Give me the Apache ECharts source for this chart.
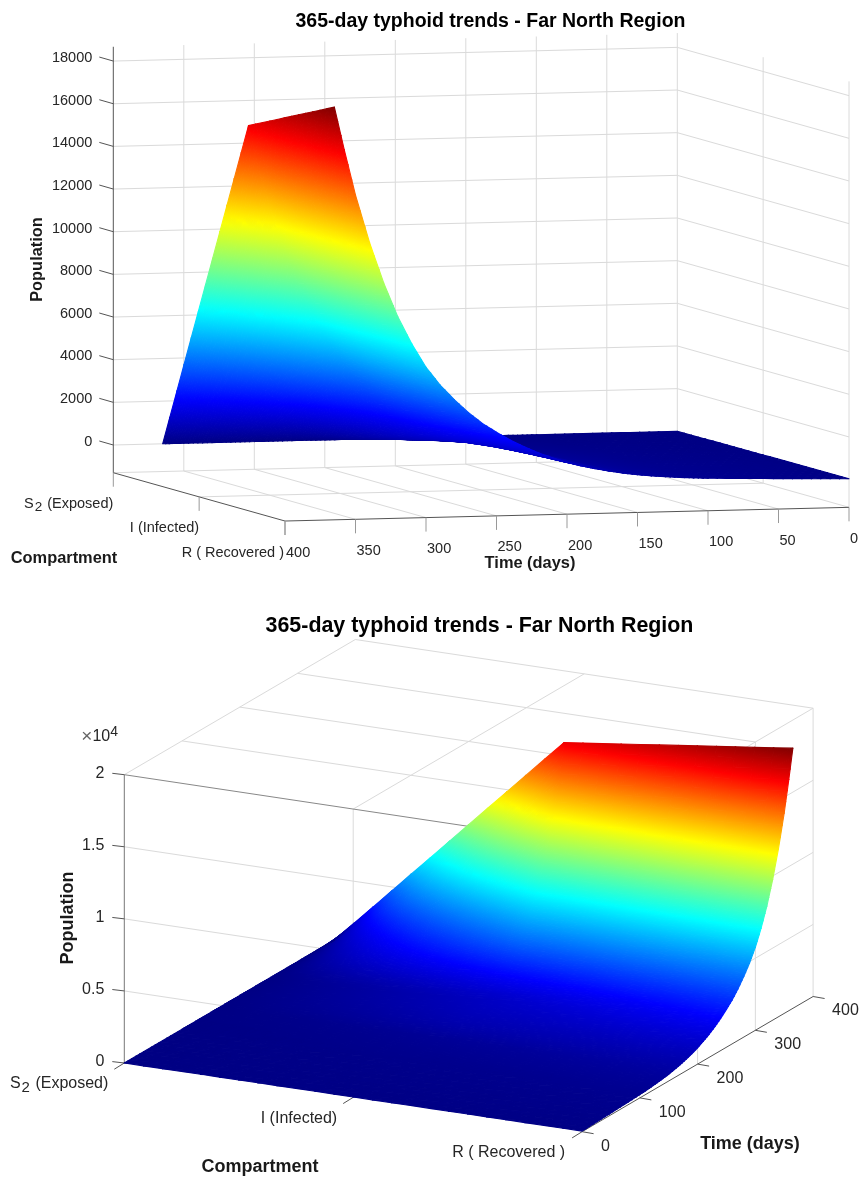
<!DOCTYPE html>
<html>
<head>
<meta charset="utf-8">
<title>365-day typhoid trends</title>
<style>
  html, body { margin: 0; padding: 0; background: #fff; }
  #chart { width: 861px; height: 1178px; }
</style>
<script src="https://cdn.jsdelivr.net/npm/echarts@6/dist/echarts.min.js"></script>
</head>
<body>
<div id="chart"></div>
<script>
const titleText = '365-day typhoid trends - Far North Region';
const timeDays = [0, 20, 40, 60, 80, 100, 110, 120, 130, 140, 150, 160, 170, 180, 190, 200, 210, 220, 230, 240, 250, 260, 270, 280, 290, 300, 310, 320, 330, 340, 350, 358, 365];
const exposedValues = [0, 0, 0, 0, 0, 0, 0, 0, 0, 0, 0, 0, 0, 0, 0, 0, 0, 0, 0, 0, 0, 0, 0, 0, 0, 0, 0, 0, 0, 0, 0, 0, 0];
const infectedValues = [25, 45, 65, 90, 115, 145, 165, 190, 220, 255, 300, 350, 530, 690, 820, 905, 994, 1055, 1115, 1160, 1350, 1850, 2550, 3350, 4200, 5060, 6030, 7170, 8570, 10250, 12250, 14000, 16050];
const recoveredValues = [40, 75, 110, 145, 180, 225, 255, 295, 345, 400, 470, 560, 670, 800, 950, 1130, 1350, 1600, 1900, 2230, 2620, 3050, 3580, 4200, 4900, 5750, 6850, 8150, 9750, 11650, 13900, 16050, 18050];
const topTimeTicks = [400, 350, 300, 250, 200, 150, 100, 50, 0];
const topPopTicks = [0, 2000, 4000, 6000, 8000, 10000, 12000, 14000, 16000, 18000];
const bottomTimeTicks = [0, 100, 200, 300, 400];
const bottomPopTicks = [0, 5000, 10000, 15000, 20000];
const bottomPopLabels = ['0', '0.5', '1', '1.5', '2'];

const surfaceRows = [exposedValues, infectedValues, recoveredValues];
const colorLimit = 18050;
const jetStops = [
  [0, [0, 0, 132]], [0.125, [0, 0, 255]], [0.375, [0, 255, 255]],
  [0.625, [255, 255, 0]], [0.875, [255, 0, 0]], [1, [128, 0, 0]],
];

const FONT = '"Liberation Sans", Arial, sans-serif';
const GRID = '#dadada';
const TICK = '#262626';

const jet = z => {
  const v = Math.max(0, Math.min(1, z / colorLimit));
  for (let i = 1; i < jetStops.length; i++) {
    if (v <= jetStops[i][0]) {
      const [a, ca] = jetStops[i - 1];
      const [b, cb] = jetStops[i];
      const f = (v - a) / (b - a);
      return `rgb(${ca.map((x, k) => Math.round(x + (cb[k] - x) * f)).join(',')})`;
    }
  }
  return 'rgb(128,0,0)';
};

// oblique views of the two MATLAB axes: px per day, per compartment, per person
const topView = { origin: [677.3, 431.3], t: [-1.41, 0.03425], c: [85.85, 24.15], z: [0, -0.02133] };
const bottomView = { origin: [124.3, 1063], t: [0.5775, -0.338], c: [228.9, 34.35], z: [0, -0.014415] };

const project = (view, t, c, z) => [
  view.origin[0] + view.t[0] * t + view.c[0] * c + view.z[0] * z,
  view.origin[1] + view.t[1] * t + view.c[1] * c + view.z[1] * z,
];

const topZ = [-1300, 18670];
const bottomZ = [0, 20000];

const topLines = [];
const bottomLines = [];
const seg = (list, a, b, color) => list.push({ a, b, color });

// top panel: back wall, side wall, floor
topPopTicks.forEach(z => {
  seg(topLines, [400, 0, z], [0, 0, z], GRID);
  seg(topLines, [0, 0, z], [0, 2, z], GRID);
});
topTimeTicks.filter(t => t !== 400).forEach(t => {
  seg(topLines, [t, 0, topZ[0]], [t, 0, topZ[1]], GRID);
  seg(topLines, [t, 0, topZ[0]], [t, 2, topZ[0]], GRID);
});
[1, 2].forEach(c => seg(topLines, [0, c, topZ[0]], [0, c, topZ[1]], GRID));
[0, 1].forEach(c => seg(topLines, [400, c, topZ[0]], [0, c, topZ[0]], GRID));
seg(topLines, [400, 0, topZ[0]], [400, 0, topZ[1]], '#555');
seg(topLines, [400, 0, topZ[0]], [400, 2, topZ[0]], '#555');
seg(topLines, [400, 2, topZ[0]], [0, 2, topZ[0]], '#555');

// bottom panel: near wall, side wall, ceiling
bottomPopTicks.filter(z => z > bottomZ[0] && z < bottomZ[1]).forEach(z => {
  seg(bottomLines, [0, 0, z], [0, 2, z], GRID);
  seg(bottomLines, [0, 2, z], [400, 2, z], GRID);
});
seg(bottomLines, [0, 1, bottomZ[0]], [0, 1, bottomZ[1]], GRID);
bottomTimeTicks.filter(t => t > 0).forEach(t => {
  seg(bottomLines, [t, 2, bottomZ[0]], [t, 2, bottomZ[1]], GRID);
  seg(bottomLines, [t, 0, bottomZ[1]], [t, 2, bottomZ[1]], GRID);
});
[0, 1, 2].forEach(c => seg(bottomLines, [0, c, bottomZ[1]], [400, c, bottomZ[1]], GRID));
seg(bottomLines, [0, 2, bottomZ[0]], [0, 2, bottomZ[1]], GRID);
seg(bottomLines, [0, 0, bottomZ[1]], [0, 2, bottomZ[1]], '#888');
seg(bottomLines, [0, 0, bottomZ[0]], [0, 0, bottomZ[1]], '#777');
seg(bottomLines, [0, 2, bottomZ[0]], [400, 2, bottomZ[0]], '#555');

const tickMarks = (list, points, offset, color) => points.forEach(p => list.push({ from: p, offset, color }));

const topTicks = [];
tickMarks(topTicks, topPopTicks.map(z => [400, 0, z]), [-14, -4], '#555');
tickMarks(topTicks, [0, 1, 2].map(c => [400, c, topZ[0]]), [0, 14], '#999');
tickMarks(topTicks, topTimeTicks.map(t => [t, 2, topZ[0]]), [0, 14], '#999');

const bottomTicks = [];
tickMarks(bottomTicks, bottomPopTicks.map(z => [0, 0, z]), [-12, -1.4], '#555');
tickMarks(bottomTicks, [0, 1, 2].map(c => [0, c, 0]), [-10, 6.2], '#555');
tickMarks(bottomTicks, bottomTimeTicks.map(t => [t, 2, 0]), [11.5, 2], '#555');

const exposedLabel = size => ({
  text: '{a|S}{b|2}{a| (Exposed)}',
  rich: {
    a: { fontSize: size, fontFamily: FONT, fill: TICK, color: TICK },
    b: { fontSize: size - 1, fontFamily: FONT, fill: TICK, color: TICK, padding: [8, 1, 0, 1] },
  },
});

const topLabels = [];
const bottomLabels = [];
topPopTicks.forEach(z => topLabels.push({ at: [400, 0, z], dx: -21, dy: -3.2, text: String(z), size: 14.5, align: 'right' }));
topTimeTicks.forEach(t => topLabels.push({ at: [t, 2, topZ[0]], dx: 1, dy: 31.5, text: String(t), size: 14.5, align: 'left' }));
topLabels.push({ at: [400, 0, topZ[0]], dx: 0, dy: 31, ...exposedLabel(14.5), size: 14.5, align: 'right' });
topLabels.push({ at: [400, 1, topZ[0]], dx: 0, dy: 31.5, text: 'I (Infected)', size: 14.5, align: 'right' });
topLabels.push({ at: [400, 2, topZ[0]], dx: -1, dy: 31.5, text: 'R ( Recovered )', size: 14.5, align: 'right' });

bottomPopTicks.forEach((z, i) => bottomLabels.push({ at: [0, 0, z], dx: -20, dy: -1, text: bottomPopLabels[i], size: 16, align: 'right' }));
bottomTimeTicks.forEach(t => bottomLabels.push({ at: [t, 2, 0], dx: 19, dy: 14.5, text: String(t), size: 16, align: 'left' }));
bottomLabels.push({ at: [0, 0, 0], dx: -16, dy: 21, ...exposedLabel(16), size: 16, align: 'right' });
bottomLabels.push({ at: [0, 1, 0], dx: -16, dy: 21.5, text: 'I (Infected)', size: 16, align: 'right' });
bottomLabels.push({ at: [0, 2, 0], dx: -17, dy: 20.5, text: 'R ( Recovered )', size: 16, align: 'right' });

// axis names sit at fixed spots of the page
const topNames = [
  { pos: [530, 563], text: 'Time (days)', size: 16.4 },
  { pos: [64, 558], text: 'Compartment', size: 16.4 },
  { pos: [37, 259.5], text: 'Population', size: 16.4, rotate: true },
];
const bottomNames = [
  { pos: [750, 1144], text: 'Time (days)', size: 18 },
  { pos: [260, 1167], text: 'Compartment', size: 18 },
  { pos: [68, 918], text: 'Population', size: 18, rotate: true },
];

const triangle = (api, view, verts) => {
  const zs = verts.map(v => v[2]);
  const pts = verts.map(v => api.coord(project(view, v[0], v[1], v[2])));
  const [[x0, y0], [x1, y1], [x2, y2]] = pts;
  const det = (x1 - x0) * (y2 - y0) - (x2 - x0) * (y1 - y0);
  if (Math.abs(det) < 0.001) return null;
  const gx = ((zs[1] - zs[0]) * (y2 - y0) - (zs[2] - zs[0]) * (y1 - y0)) / det;
  const gy = ((x1 - x0) * (zs[2] - zs[0]) - (x2 - x0) * (zs[1] - zs[0])) / det;
  const g2 = gx * gx + gy * gy;
  const zLo = Math.min(...zs);
  const zHi = Math.max(...zs);
  let fill = jet((zLo + zHi) / 2);
  if (g2 > 1e-9 && zHi - zLo > 20) {
    const start = pts[zs.indexOf(zLo)];
    const colorStops = [];
    for (let i = 0; i <= 4; i++) {
      colorStops.push({ offset: i / 4, color: jet(zLo + ((zHi - zLo) * i) / 4) });
    }
    fill = {
      type: 'linear',
      global: true,
      x: start[0],
      y: start[1],
      x2: start[0] + (gx / g2) * (zHi - zLo),
      y2: start[1] + (gy / g2) * (zHi - zLo),
      colorStops,
    };
  }
  return {
    type: 'polygon',
    shape: { points: pts },
    style: { fill, stroke: fill, lineWidth: 1.1, lineJoin: 'round' },
  };
};

// cells listed back to front for each view
const cellList = rowOrder => {
  const list = [];
  rowOrder.forEach(c => {
    for (let j = 0; j < timeDays.length - 1; j++) list.push([j, c]);
  });
  return list;
};

// each cell is shaded bilinearly, MATLAB's interp, on a small mesh
const CELL_T = 3;
const CELL_C = 12;

const surfaceSeries = (view, index, rowOrder) => {
  const cells = cellList(rowOrder);
  return {
    type: 'custom',
    xAxisIndex: index,
    yAxisIndex: index,
    silent: true,
    animation: false,
    clip: false,
    z: 5,
    data: cells.map((_, i) => [i]),
    renderItem: (params, api) => {
      const [j, c] = cells[params.dataIndex];
      const t0 = timeDays[j];
      const t1 = timeDays[j + 1];
      const corner = (u, w) => {
        const a = surfaceRows[c][j] * (1 - u) + surfaceRows[c][j + 1] * u;
        const b = surfaceRows[c + 1][j] * (1 - u) + surfaceRows[c + 1][j + 1] * u;
        return [t0 + (t1 - t0) * u, c + w, a * (1 - w) + b * w];
      };
      const children = [];
      for (let a = 0; a < CELL_T; a++) {
        for (let b = 0; b < CELL_C; b++) {
          const p00 = corner(a / CELL_T, b / CELL_C);
          const p10 = corner((a + 1) / CELL_T, b / CELL_C);
          const p11 = corner((a + 1) / CELL_T, (b + 1) / CELL_C);
          const p01 = corner(a / CELL_T, (b + 1) / CELL_C);
          [[p00, p10, p11], [p00, p11, p01]].forEach(tri => {
            const shape = triangle(api, view, tri);
            if (shape) children.push(shape);
          });
        }
      }
      return { type: 'group', children };
    },
  };
};

const wireSeries = (view, index, lines, ticks) => {
  const items = [...lines, ...ticks];
  return {
    type: 'custom',
    xAxisIndex: index,
    yAxisIndex: index,
    silent: true,
    animation: false,
    clip: false,
    z: 2,
    data: items.map((_, i) => [i]),
    renderItem: (params, api) => {
      const item = items[params.dataIndex];
      const a = api.coord(project(view, ...(item.a || item.from)));
      const b = item.b
        ? api.coord(project(view, ...item.b))
        : [a[0] + item.offset[0], a[1] + item.offset[1]];
      return {
        type: 'line',
        shape: { x1: a[0], y1: a[1], x2: b[0], y2: b[1] },
        style: { stroke: item.color, lineWidth: 1 },
      };
    },
  };
};

const labelSeries = (view, index, labels, names) => {
  const items = [...labels, ...names];
  return {
    type: 'custom',
    xAxisIndex: index,
    yAxisIndex: index,
    silent: true,
    animation: false,
    clip: false,
    z: 10,
    data: items.map((_, i) => [i]),
    renderItem: (params, api) => {
      const item = items[params.dataIndex];
      if (item.pos) {
        const p = api.coord(item.pos);
        return {
          type: 'text',
          x: p[0],
          y: p[1],
          rotation: item.rotate ? Math.PI / 2 : 0,
          style: {
            text: item.text,
            fill: '#1a1a1a',
            fontFamily: FONT,
            fontWeight: 'bold',
            fontSize: item.size,
            align: 'center',
            verticalAlign: 'middle',
          },
        };
      }
      const p = api.coord(project(view, ...item.at));
      return {
        type: 'text',
        x: p[0] + item.dx,
        y: p[1] + item.dy,
        style: {
          text: item.text,
          rich: item.rich,
          fill: TICK,
          fontFamily: FONT,
          fontSize: item.size,
          align: item.align,
          verticalAlign: 'middle',
        },
      };
    },
  };
};

const multiplierSeries = {
  type: 'custom',
  xAxisIndex: 1,
  yAxisIndex: 1,
  silent: true,
  animation: false,
  clip: false,
  z: 10,
  data: [[118, 737]],
  renderItem: (params, api) => {
    const p = api.coord([api.value(0), api.value(1)]);
    return {
      type: 'text',
      x: p[0],
      y: p[1],
      style: {
        text: '{a|×}{b|10}{c|4}',
        align: 'right',
        verticalAlign: 'middle',
        rich: {
          a: { fontSize: 19, fontFamily: FONT, color: '#666', fill: '#666' },
          b: { fontSize: 16, fontFamily: FONT, color: TICK, fill: TICK },
          c: { fontSize: 14, fontFamily: FONT, color: TICK, fill: TICK, padding: [0, 0, 10, 0] },
        },
      },
    };
  },
};

const chart = echarts.init(document.getElementById('chart'));
chart.setOption({
  backgroundColor: '#fff',
  animation: false,
  title: [
    {
      text: titleText,
      left: 485.5,
      top: 7,
      textAlign: 'center',
      textStyle: { fontFamily: FONT, fontSize: 19.5, fontWeight: 'bold', color: '#000' },
    },
    {
      text: titleText,
      left: 474.5,
      top: 611,
      textAlign: 'center',
      textStyle: { fontFamily: FONT, fontSize: 21.4, fontWeight: 'bold', color: '#000' },
    },
  ],
  grid: [
    { left: 0, right: 0, top: 0, height: 590 },
    { left: 0, right: 0, top: 590, height: 588 },
  ],
  xAxis: [
    { type: 'value', gridIndex: 0, min: 0, max: 861, show: false },
    { type: 'value', gridIndex: 1, min: 0, max: 861, show: false },
  ],
  yAxis: [
    { type: 'value', gridIndex: 0, min: 0, max: 590, inverse: true, show: false },
    { type: 'value', gridIndex: 1, min: 590, max: 1178, inverse: true, show: false },
  ],
  series: [
    wireSeries(topView, 0, topLines, topTicks),
    surfaceSeries(topView, 0, [0, 1]),
    labelSeries(topView, 0, topLabels, topNames),
    wireSeries(bottomView, 1, bottomLines, bottomTicks),
    surfaceSeries(bottomView, 1, [1, 0]),
    labelSeries(bottomView, 1, bottomLabels, bottomNames),
    multiplierSeries,
  ],
});
</script>
</body>
</html>
